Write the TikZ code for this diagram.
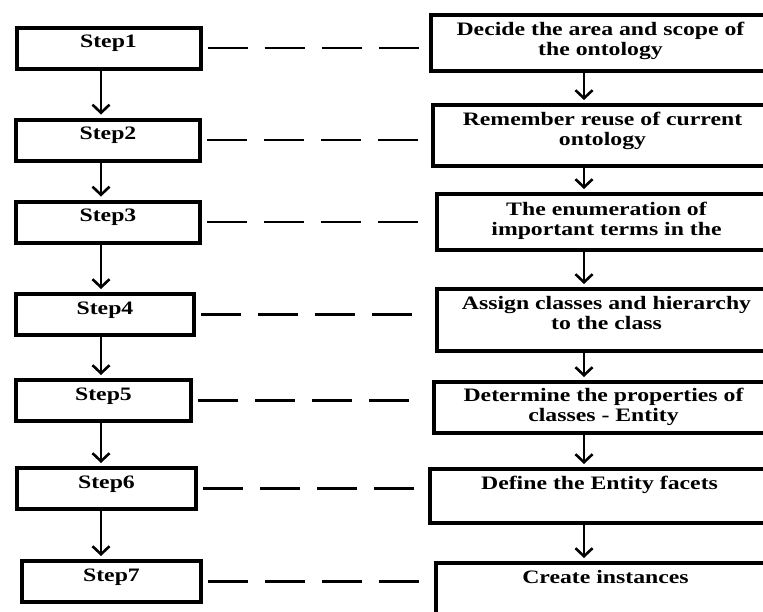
\documentclass[tikz,border=0pt]{standalone}
\usepackage{fontspec}
\setmainfont{Liberation Serif}[FakeStretch=1.25]
\usetikzlibrary{arrows.meta}

\tikzstyle{stepbox}=[rectangle, draw, line width=4pt, inner sep=0pt, minimum width=184pt, text height=20pt, text depth=21pt, font=\bfseries\fontsize{19}{20}\selectfont]
\tikzstyle{taskbox}=[rectangle, draw, line width=4pt, inner sep=0pt, anchor=west, minimum width=339pt, text height=20pt, align=center, font=\bfseries\fontsize{19}{20}\selectfont]
\tikzstyle{pointto}=[-{Straight Barb[length=8pt,width=17pt]}, line width=2.6pt, shorten >=3pt]
\tikzstyle{linkto}=[line width=2.2pt, dash pattern=on 40pt off 17pt, shorten <=5pt, shorten >=7pt]

\begin{document}
\begin{tikzpicture}[x=1pt, y=-1pt]
\useasboundingbox (0,0) rectangle (763,611);
\clip (0,0) rectangle (763,611);
% steps on the left
\node[stepbox] (S1) at (108.5,48) {Step1};
\node[stepbox] (S2) at (108,140) {Step2};
\node[stepbox] (S3) at (108,222) {Step3};
\node[stepbox, minimum width=178pt] (S4) at (105,314.5) {Step4};
\node[stepbox, minimum width=175pt] (S5) at (103.5,400.5) {Step5};
\node[stepbox, minimum width=179pt] (S6) at (106.5,488.5) {Step6};
\node[stepbox, minimum width=179pt] (S7) at (111.5,581.5) {Step7};
% tasks on the right (two lines: text height up to the last line)
\node[taskbox, text height=40pt, text depth=16pt] (T1) at (429,43) {Decide the area and scope of\\the ontology};
\node[taskbox, text height=40pt, text depth=21pt] (T2) at (431,135.5) {Remember reuse of current\\ontology};
\node[taskbox, text height=41pt, text depth=15pt] (T3) at (435,222) {The enumeration of\\important terms in the};
\node[taskbox, text height=40pt, text depth=22pt] (T4) at (435,320) {Assign classes and hierarchy\\to the class};
\node[taskbox, text height=39pt, text depth=12pt] (T5) at (432,407.5) {Determine the properties of\\classes - Entity};
\node[taskbox, text depth=34pt] (T6) at (428,496) {Define the Entity facets};
\node[taskbox, text depth=57pt] (T7) at (434,601.5) {Create instances};
\coordinate (lcol) at (101,0);
\coordinate (rcol) at (584,0);
% arrows
\draw[pointto] (S1.south -| lcol) -- (S2.north -| lcol);
\draw[pointto] (S2.south -| lcol) -- (S3.north -| lcol);
\draw[pointto] (S3.south -| lcol) -- (S4.north -| lcol);
\draw[pointto] (S4.south -| lcol) -- (S5.north -| lcol);
\draw[pointto] (S5.south -| lcol) -- (S6.north -| lcol);
\draw[pointto] (S6.south -| lcol) -- (S7.north -| lcol);
\draw[pointto] (T1.south -| rcol) -- (T2.north -| rcol);
\draw[pointto] (T2.south -| rcol) -- (T3.north -| rcol);
\draw[pointto] (T3.south -| rcol) -- (T4.north -| rcol);
\draw[pointto] (T4.south -| rcol) -- (T5.north -| rcol);
\draw[pointto] (T5.south -| rcol) -- (T6.north -| rcol);
\draw[pointto] (T6.south -| rcol) -- (T7.north -| rcol);
% dashed links
\draw[linkto] (S1.east) -- (S1.east -| T1.west);
\draw[linkto] (S2.east) -- (S2.east -| T2.west);
\draw[linkto] (S3.east) -- (S3.east -| T3.west);
\draw[linkto] (S4.east) -- (S4.east -| T4.west);
\draw[linkto] (S5.east) -- (S5.east -| T5.west);
\draw[linkto] (S6.east) -- (S6.east -| T6.west);
\draw[linkto] (S7.east) -- (S7.east -| T7.west);
\end{tikzpicture}
\end{document}
